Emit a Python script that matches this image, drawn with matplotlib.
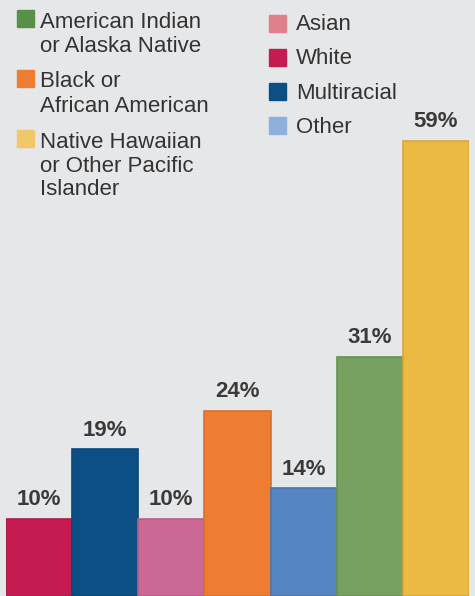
import matplotlib.pyplot as plt
from matplotlib.patches import Rectangle

# data
groups = ['White', 'Multiracial', 'Asian', 'Black or African American',
          'Other', 'American Indian or Alaska Native',
          'Native Hawaiian or Other Pacific Islander']
values = [10, 19, 10, 24, 14, 31, 59]
bar_colors = ['#C41C50', '#0B4F85', '#CC6894', '#EE7D31',
              '#5685C3', '#77A160', '#ECBA42']
edge_colors = ['#B0184A', '#0A4678', '#B85D88', '#D86F2A',
               '#4A76B0', '#6A9155', '#D4A63A']

legend_left = [('#5A8F48', ['American Indian', 'or Alaska Native']),
               ('#EE7D31', ['Black or', 'African American']),
               ('#F0C86A', ['Native Hawaiian', 'or Other Pacific', 'Islander'])]
legend_right = [('#E0808A', 'Asian'), ('#C41C50', 'White'),
                ('#0B4F85', 'Multiracial'), ('#8FB0DD', 'Other')]

W, H = 475, 596
bg = '#E6E7E9'
txt = '#333333'

fig = plt.figure(figsize=(W / 100, H / 100), dpi=100, facecolor=bg)
ax = fig.add_axes([6 / W, 0, 463 / W, 1])
ax.set_facecolor(bg)

x = range(len(values))
bars = ax.bar(x, values, width=1.0, color=bar_colors,
              edgecolor=edge_colors, linewidth=1.2)
for b, v in zip(bars, values):
    ax.annotate(f'{v}%', (b.get_x() + b.get_width() / 2, v),
                xytext=(0, 6), textcoords='offset points',
                ha='center', va='bottom', fontsize=16, fontweight='bold',
                family='Liberation Sans', color='#3a3a3a')

ax.set_xlim(-0.5, len(values) - 0.5)
ax.set_ylim(0, H / 7.72)
ax.axis('off')


def fx(px):
    return px / W


def fy(py):
    return 1 - py / H


# legend, left column
left_sq = [10, 70, 130]
left_base = [[28, 52], [87, 112], [148, 172, 195]]
for (c, lines), sq, bases in zip(legend_left, left_sq, left_base):
    fig.patches.append(Rectangle((fx(17), fy(sq + 17)), 17 / W, 17 / H,
                                 transform=fig.transFigure, color=c))
    for line, b in zip(lines, bases):
        fig.text(fx(40), fy(b), line, fontsize=16, family='Liberation Sans',
                 color=txt, va='baseline')

# legend, right column
right_sq = [15, 49, 83, 117]
right_base = [30, 64, 99, 133]
for (c, label), sq, b in zip(legend_right, right_sq, right_base):
    fig.patches.append(Rectangle((fx(269), fy(sq + 17)), 17 / W, 17 / H,
                                 transform=fig.transFigure, color=c))
    fig.text(fx(296), fy(b), label, fontsize=16, family='Liberation Sans',
             color=txt, va='baseline')

fig.savefig('out.png', dpi=100, facecolor=bg)
